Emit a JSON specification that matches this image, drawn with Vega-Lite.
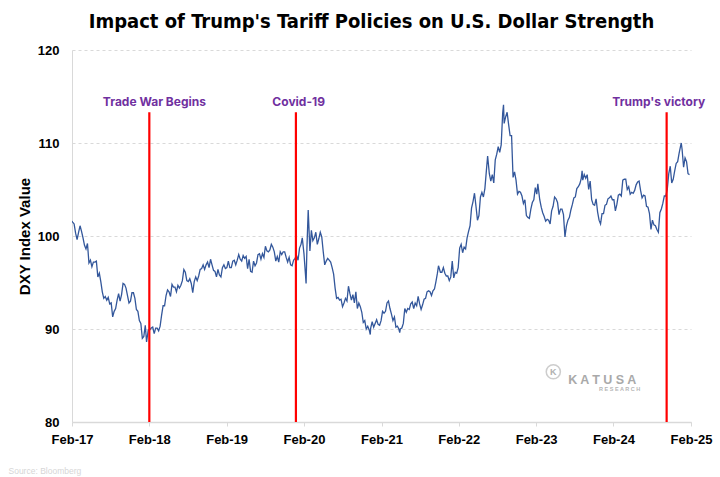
{
  "$schema": "https://vega.github.io/schema/vega-lite/v6.json",
  "width": 619,
  "height": 372,
  "autosize": {"type": "none"},
  "padding": {"left": 72, "top": 50, "right": 29, "bottom": 55},
  "background": "white",
  "config": {"view": {"stroke": null}},
  "title": {
    "text": "Impact of Trump's Tariff Policies on U.S. Dollar Strength",
    "font": "'DejaVu Sans Condensed', 'Liberation Sans', sans-serif",
    "fontSize": 20,
    "fontWeight": "bold",
    "color": "#000000",
    "anchor": "middle",
    "dx": -10,
    "offset": 12
  },
  "datasets": {
    "dxy": [
      {"d":"2017-02-28","v":101.6},{"d":"2017-03-03","v":101.5},{"d":"2017-03-10","v":101.3},{"d":"2017-03-17","v":100.3},{"d":"2017-03-24","v":99.6},{"d":"2017-03-31","v":100.4},
      {"d":"2017-04-07","v":101.1},{"d":"2017-04-14","v":100.5},{"d":"2017-04-21","v":99.8},{"d":"2017-04-28","v":99.0},{"d":"2017-05-05","v":98.6},{"d":"2017-05-12","v":99.2},
      {"d":"2017-05-19","v":97.1},{"d":"2017-05-26","v":97.4},{"d":"2017-06-02","v":96.7},{"d":"2017-06-09","v":97.2},{"d":"2017-06-16","v":97.2},{"d":"2017-06-23","v":97.3},
      {"d":"2017-06-30","v":95.6},{"d":"2017-07-07","v":96.0},{"d":"2017-07-14","v":95.1},{"d":"2017-07-21","v":94.0},{"d":"2017-07-28","v":93.3},{"d":"2017-08-04","v":93.5},
      {"d":"2017-08-11","v":93.1},{"d":"2017-08-18","v":93.4},{"d":"2017-08-25","v":92.7},{"d":"2017-09-01","v":92.8},{"d":"2017-09-08","v":91.3},{"d":"2017-09-15","v":91.9},
      {"d":"2017-09-22","v":92.2},{"d":"2017-09-29","v":93.1},{"d":"2017-10-06","v":93.8},{"d":"2017-10-13","v":93.0},{"d":"2017-10-20","v":93.7},{"d":"2017-10-27","v":94.9},
      {"d":"2017-11-03","v":94.8},{"d":"2017-11-10","v":94.4},{"d":"2017-11-17","v":93.6},{"d":"2017-11-24","v":92.8},{"d":"2017-12-01","v":93.0},{"d":"2017-12-08","v":93.9},
      {"d":"2017-12-15","v":93.9},{"d":"2017-12-22","v":93.3},{"d":"2017-12-29","v":92.1},
      {"d":"2018-01-05","v":91.9},{"d":"2018-01-12","v":90.9},{"d":"2018-01-19","v":90.6},{"d":"2018-01-26","v":89.0},{"d":"2018-02-02","v":89.2},{"d":"2018-02-09","v":90.4},
      {"d":"2018-02-15","v":88.6},{"d":"2018-02-23","v":89.9},{"d":"2018-03-02","v":89.9},{"d":"2018-03-09","v":90.1},{"d":"2018-03-16","v":90.2},{"d":"2018-03-23","v":89.5},
      {"d":"2018-03-30","v":90.1},{"d":"2018-04-06","v":90.1},{"d":"2018-04-13","v":89.8},{"d":"2018-04-20","v":90.3},{"d":"2018-04-27","v":91.5},{"d":"2018-05-04","v":92.5},
      {"d":"2018-05-11","v":92.5},{"d":"2018-05-18","v":93.6},{"d":"2018-05-25","v":94.2},{"d":"2018-06-01","v":94.0},{"d":"2018-06-08","v":93.5},{"d":"2018-06-15","v":94.8},
      {"d":"2018-06-22","v":94.5},{"d":"2018-06-29","v":94.5},{"d":"2018-07-06","v":94.0},{"d":"2018-07-13","v":94.7},{"d":"2018-07-20","v":94.4},{"d":"2018-07-27","v":94.7},
      {"d":"2018-08-03","v":95.2},{"d":"2018-08-10","v":96.4},{"d":"2018-08-17","v":96.1},{"d":"2018-08-24","v":95.2},{"d":"2018-08-31","v":95.1},{"d":"2018-09-07","v":95.4},
      {"d":"2018-09-14","v":94.9},{"d":"2018-09-21","v":93.9},{"d":"2018-09-28","v":95.1},{"d":"2018-10-05","v":95.6},{"d":"2018-10-12","v":95.2},{"d":"2018-10-19","v":95.7},
      {"d":"2018-10-26","v":96.4},{"d":"2018-11-02","v":96.5},{"d":"2018-11-09","v":96.9},{"d":"2018-11-16","v":96.4},{"d":"2018-11-23","v":96.9},{"d":"2018-11-30","v":97.2},
      {"d":"2018-12-07","v":96.6},{"d":"2018-12-14","v":97.5},{"d":"2018-12-21","v":96.9},{"d":"2018-12-28","v":96.3},
      {"d":"2019-01-04","v":96.2},{"d":"2019-01-11","v":95.6},{"d":"2019-01-18","v":96.4},{"d":"2019-01-25","v":95.8},{"d":"2019-02-01","v":95.6},{"d":"2019-02-08","v":96.6},
      {"d":"2019-02-15","v":96.9},{"d":"2019-02-22","v":96.5},{"d":"2019-03-01","v":96.6},{"d":"2019-03-08","v":97.3},{"d":"2019-03-15","v":96.6},{"d":"2019-03-22","v":96.6},
      {"d":"2019-03-29","v":97.3},{"d":"2019-04-05","v":97.4},{"d":"2019-04-12","v":96.9},{"d":"2019-04-19","v":97.4},{"d":"2019-04-26","v":98.0},{"d":"2019-05-03","v":97.5},
      {"d":"2019-05-10","v":97.3},{"d":"2019-05-17","v":97.9},{"d":"2019-05-24","v":97.6},{"d":"2019-05-31","v":97.8},{"d":"2019-06-07","v":96.5},{"d":"2019-06-14","v":97.5},
      {"d":"2019-06-21","v":96.2},{"d":"2019-06-28","v":96.1},{"d":"2019-07-05","v":97.3},{"d":"2019-07-12","v":96.8},{"d":"2019-07-19","v":97.1},{"d":"2019-07-26","v":98.0},
      {"d":"2019-08-02","v":98.1},{"d":"2019-08-09","v":97.5},{"d":"2019-08-16","v":98.1},{"d":"2019-08-23","v":97.7},{"d":"2019-08-30","v":98.9},{"d":"2019-09-06","v":98.4},
      {"d":"2019-09-13","v":98.3},{"d":"2019-09-20","v":98.5},{"d":"2019-09-27","v":99.1},{"d":"2019-10-04","v":98.8},{"d":"2019-10-11","v":98.3},{"d":"2019-10-18","v":97.3},
      {"d":"2019-10-25","v":97.8},{"d":"2019-11-01","v":97.2},{"d":"2019-11-08","v":98.3},{"d":"2019-11-15","v":98.0},{"d":"2019-11-22","v":98.3},{"d":"2019-11-29","v":98.3},
      {"d":"2019-12-06","v":97.7},{"d":"2019-12-13","v":97.2},{"d":"2019-12-20","v":97.7},{"d":"2019-12-27","v":96.9},
      {"d":"2020-01-03","v":96.8},{"d":"2020-01-10","v":97.4},{"d":"2020-01-17","v":97.6},{"d":"2020-01-24","v":97.9},{"d":"2020-01-31","v":97.4},{"d":"2020-02-07","v":98.7},
      {"d":"2020-02-14","v":99.1},{"d":"2020-02-20","v":99.8},{"d":"2020-02-28","v":98.1},{"d":"2020-03-06","v":95.9},{"d":"2020-03-09","v":94.9},{"d":"2020-03-13","v":98.7},
      {"d":"2020-03-19","v":102.8},{"d":"2020-03-27","v":98.4},{"d":"2020-04-03","v":100.6},{"d":"2020-04-10","v":99.5},{"d":"2020-04-17","v":99.8},{"d":"2020-04-24","v":100.4},
      {"d":"2020-05-01","v":99.1},{"d":"2020-05-08","v":99.7},{"d":"2020-05-15","v":100.4},{"d":"2020-05-22","v":99.9},{"d":"2020-05-29","v":98.3},{"d":"2020-06-05","v":96.9},
      {"d":"2020-06-12","v":97.3},{"d":"2020-06-19","v":97.6},{"d":"2020-06-26","v":97.4},{"d":"2020-07-03","v":97.2},{"d":"2020-07-10","v":96.6},{"d":"2020-07-17","v":95.9},
      {"d":"2020-07-24","v":94.4},{"d":"2020-07-31","v":93.3},{"d":"2020-08-07","v":93.4},{"d":"2020-08-14","v":93.1},{"d":"2020-08-21","v":93.2},{"d":"2020-08-28","v":92.4},
      {"d":"2020-09-04","v":92.8},{"d":"2020-09-11","v":93.3},{"d":"2020-09-18","v":93.0},{"d":"2020-09-25","v":94.6},{"d":"2020-10-02","v":93.8},{"d":"2020-10-09","v":93.1},
      {"d":"2020-10-16","v":93.7},{"d":"2020-10-23","v":92.8},{"d":"2020-10-30","v":94.0},{"d":"2020-11-06","v":92.2},{"d":"2020-11-13","v":92.8},{"d":"2020-11-20","v":92.4},
      {"d":"2020-11-27","v":91.8},{"d":"2020-12-04","v":90.7},{"d":"2020-12-11","v":90.9},{"d":"2020-12-18","v":90.0},{"d":"2020-12-25","v":90.3},
      {"d":"2021-01-01","v":89.9},{"d":"2021-01-06","v":89.4},{"d":"2021-01-08","v":90.1},{"d":"2021-01-15","v":90.8},{"d":"2021-01-22","v":90.2},{"d":"2021-01-29","v":90.6},
      {"d":"2021-02-05","v":91.0},{"d":"2021-02-12","v":90.5},{"d":"2021-02-19","v":90.4},{"d":"2021-02-26","v":90.9},{"d":"2021-03-05","v":91.9},{"d":"2021-03-12","v":91.7},
      {"d":"2021-03-19","v":91.9},{"d":"2021-03-26","v":92.8},{"d":"2021-04-02","v":93.0},{"d":"2021-04-09","v":92.2},{"d":"2021-04-16","v":91.6},{"d":"2021-04-23","v":90.9},
      {"d":"2021-04-30","v":91.3},{"d":"2021-05-07","v":90.2},{"d":"2021-05-14","v":90.3},{"d":"2021-05-21","v":90.0},{"d":"2021-05-25","v":89.6},{"d":"2021-05-28","v":90.0},
      {"d":"2021-06-04","v":90.1},{"d":"2021-06-11","v":90.6},{"d":"2021-06-18","v":92.2},{"d":"2021-06-25","v":91.8},{"d":"2021-07-02","v":92.2},{"d":"2021-07-09","v":92.1},
      {"d":"2021-07-16","v":92.7},{"d":"2021-07-23","v":92.9},{"d":"2021-07-30","v":92.2},{"d":"2021-08-06","v":92.8},{"d":"2021-08-13","v":92.5},{"d":"2021-08-20","v":93.5},
      {"d":"2021-08-27","v":92.7},{"d":"2021-09-03","v":92.1},{"d":"2021-09-10","v":92.6},{"d":"2021-09-17","v":93.2},{"d":"2021-09-24","v":93.3},{"d":"2021-10-01","v":94.0},
      {"d":"2021-10-08","v":94.1},{"d":"2021-10-15","v":94.0},{"d":"2021-10-22","v":93.6},{"d":"2021-10-29","v":94.1},{"d":"2021-11-05","v":94.3},{"d":"2021-11-12","v":95.1},
      {"d":"2021-11-19","v":96.0},{"d":"2021-11-24","v":96.8},{"d":"2021-12-03","v":96.1},{"d":"2021-12-10","v":96.1},{"d":"2021-12-17","v":96.6},{"d":"2021-12-24","v":96.0},
      {"d":"2021-12-31","v":95.7},
      {"d":"2022-01-07","v":95.7},{"d":"2022-01-14","v":95.2},{"d":"2022-01-21","v":95.6},{"d":"2022-01-28","v":97.3},{"d":"2022-02-04","v":95.5},{"d":"2022-02-11","v":96.1},
      {"d":"2022-02-18","v":96.0},{"d":"2022-02-25","v":96.6},{"d":"2022-03-04","v":98.7},{"d":"2022-03-11","v":99.1},{"d":"2022-03-18","v":98.2},{"d":"2022-03-25","v":98.8},
      {"d":"2022-04-01","v":98.6},{"d":"2022-04-08","v":99.8},{"d":"2022-04-15","v":100.5},{"d":"2022-04-22","v":101.1},{"d":"2022-04-29","v":103.0},{"d":"2022-05-06","v":103.7},
      {"d":"2022-05-13","v":104.6},{"d":"2022-05-20","v":103.2},{"d":"2022-05-27","v":101.7},{"d":"2022-06-03","v":102.2},{"d":"2022-06-10","v":104.2},{"d":"2022-06-17","v":104.7},
      {"d":"2022-06-24","v":104.2},{"d":"2022-07-01","v":105.1},{"d":"2022-07-08","v":107.0},{"d":"2022-07-14","v":108.6},{"d":"2022-07-22","v":106.7},{"d":"2022-07-29","v":105.9},
      {"d":"2022-08-05","v":106.6},{"d":"2022-08-12","v":105.7},{"d":"2022-08-19","v":108.2},{"d":"2022-08-26","v":108.8},{"d":"2022-09-02","v":109.6},{"d":"2022-09-09","v":109.0},
      {"d":"2022-09-16","v":109.8},{"d":"2022-09-23","v":113.2},{"d":"2022-09-27","v":114.1},{"d":"2022-09-30","v":112.1},{"d":"2022-10-07","v":112.8},{"d":"2022-10-14","v":113.3},
      {"d":"2022-10-21","v":112.0},{"d":"2022-10-28","v":110.8},{"d":"2022-11-04","v":110.8},{"d":"2022-11-11","v":106.3},{"d":"2022-11-18","v":106.9},{"d":"2022-11-25","v":106.0},
      {"d":"2022-12-02","v":104.5},{"d":"2022-12-09","v":104.8},{"d":"2022-12-16","v":104.7},{"d":"2022-12-23","v":104.3},{"d":"2022-12-30","v":103.5},
      {"d":"2023-01-06","v":103.9},{"d":"2023-01-13","v":102.2},{"d":"2023-01-20","v":102.0},{"d":"2023-01-27","v":101.9},{"d":"2023-02-03","v":102.9},{"d":"2023-02-10","v":103.6},
      {"d":"2023-02-17","v":103.9},{"d":"2023-02-24","v":105.2},{"d":"2023-03-03","v":104.5},{"d":"2023-03-08","v":105.6},{"d":"2023-03-17","v":103.9},{"d":"2023-03-24","v":103.1},
      {"d":"2023-03-31","v":102.5},{"d":"2023-04-07","v":102.1},{"d":"2023-04-14","v":101.6},{"d":"2023-04-21","v":101.8},{"d":"2023-04-28","v":101.7},{"d":"2023-05-05","v":101.3},
      {"d":"2023-05-12","v":102.7},{"d":"2023-05-19","v":103.2},{"d":"2023-05-26","v":104.2},{"d":"2023-06-02","v":104.0},{"d":"2023-06-09","v":103.6},{"d":"2023-06-16","v":102.3},
      {"d":"2023-06-23","v":102.9},{"d":"2023-06-30","v":102.9},{"d":"2023-07-07","v":102.3},{"d":"2023-07-14","v":99.9},{"d":"2023-07-21","v":101.1},{"d":"2023-07-28","v":101.7},
      {"d":"2023-08-04","v":102.0},{"d":"2023-08-11","v":102.8},{"d":"2023-08-18","v":103.4},{"d":"2023-08-25","v":104.1},{"d":"2023-09-01","v":104.2},{"d":"2023-09-08","v":105.1},
      {"d":"2023-09-15","v":105.3},{"d":"2023-09-22","v":105.6},{"d":"2023-09-29","v":106.2},{"d":"2023-10-03","v":107.0},{"d":"2023-10-06","v":106.0},{"d":"2023-10-13","v":106.6},
      {"d":"2023-10-20","v":106.2},{"d":"2023-10-27","v":106.6},{"d":"2023-11-03","v":105.0},{"d":"2023-11-10","v":105.9},{"d":"2023-11-17","v":103.9},{"d":"2023-11-24","v":103.4},
      {"d":"2023-12-01","v":103.3},{"d":"2023-12-08","v":104.0},{"d":"2023-12-15","v":102.6},{"d":"2023-12-22","v":101.7},{"d":"2023-12-29","v":101.3},
      {"d":"2024-01-05","v":102.4},{"d":"2024-01-12","v":102.4},{"d":"2024-01-19","v":103.3},{"d":"2024-01-26","v":103.4},{"d":"2024-02-02","v":104.0},{"d":"2024-02-09","v":104.1},
      {"d":"2024-02-16","v":104.3},{"d":"2024-02-23","v":103.9},{"d":"2024-03-01","v":103.9},{"d":"2024-03-08","v":102.7},{"d":"2024-03-15","v":103.4},{"d":"2024-03-22","v":104.4},
      {"d":"2024-03-29","v":104.5},{"d":"2024-04-05","v":104.3},{"d":"2024-04-12","v":106.0},{"d":"2024-04-19","v":106.1},{"d":"2024-04-26","v":106.1},{"d":"2024-05-03","v":105.0},
      {"d":"2024-05-10","v":105.3},{"d":"2024-05-17","v":104.5},{"d":"2024-05-24","v":104.7},{"d":"2024-05-31","v":104.6},{"d":"2024-06-07","v":104.9},{"d":"2024-06-14","v":105.5},
      {"d":"2024-06-21","v":105.8},{"d":"2024-06-28","v":105.9},{"d":"2024-07-05","v":104.9},{"d":"2024-07-12","v":104.1},{"d":"2024-07-19","v":104.4},{"d":"2024-07-26","v":104.3},
      {"d":"2024-08-02","v":103.2},{"d":"2024-08-09","v":103.1},{"d":"2024-08-16","v":102.4},{"d":"2024-08-23","v":100.7},{"d":"2024-08-30","v":101.7},{"d":"2024-09-06","v":101.2},
      {"d":"2024-09-13","v":101.1},{"d":"2024-09-20","v":100.7},{"d":"2024-09-27","v":100.4},{"d":"2024-10-04","v":102.5},{"d":"2024-10-11","v":102.9},{"d":"2024-10-18","v":103.5},
      {"d":"2024-10-25","v":104.3},{"d":"2024-11-01","v":104.3},{"d":"2024-11-08","v":105.0},{"d":"2024-11-15","v":106.7},{"d":"2024-11-22","v":107.5},{"d":"2024-11-29","v":105.7},
      {"d":"2024-12-06","v":106.1},{"d":"2024-12-13","v":107.0},{"d":"2024-12-20","v":107.8},{"d":"2024-12-27","v":108.0},
      {"d":"2025-01-03","v":108.9},{"d":"2025-01-10","v":109.7},{"d":"2025-01-13","v":110.0},{"d":"2025-01-17","v":109.3},{"d":"2025-01-24","v":107.4},{"d":"2025-01-31","v":108.4},
      {"d":"2025-02-07","v":108.0},{"d":"2025-02-14","v":106.7},{"d":"2025-02-21","v":106.6}
    ],
    "events": [
      {"d":"2018-02-28","v":80,"v2":113.3},
      {"d":"2020-01-21","v":80,"v2":113.3},
      {"d":"2024-11-05","v":80,"v2":113.3}
    ],
    "eventLabels": [
      {"d":"2018-03-24","v":114.4,"t":"Trade War Begins"},
      {"d":"2020-02-03","v":114.4,"t":"Covid-19"},
      {"d":"2024-09-29","v":114.4,"t":"Trump's victory"}
    ],
    "logoMark": [{"d":"2023-05-20","v":85.4,"t":"K"}],
    "logoName": [{"d":"2023-07-29","v":84.5,"t":"K A T U S A"}],
    "logoSub": [{"d":"2023-12-22","v":83.55,"t":"R E S E A R C H"}]
  },
  "encoding": {
    "x": {
      "field": "d",
      "type": "temporal",
      "scale": {
        "type": "utc",
        "domain": [{"year":2017,"month":2,"date":28,"utc":true},{"year":2025,"month":2,"date":28,"utc":true}]
      },
      "axis": {
        "values": [
          {"year":2017,"month":2,"date":28,"utc":true},
          {"year":2018,"month":2,"date":28,"utc":true},
          {"year":2019,"month":2,"date":28,"utc":true},
          {"year":2020,"month":2,"date":28,"utc":true},
          {"year":2021,"month":2,"date":28,"utc":true},
          {"year":2022,"month":2,"date":28,"utc":true},
          {"year":2023,"month":2,"date":28,"utc":true},
          {"year":2024,"month":2,"date":28,"utc":true},
          {"year":2025,"month":2,"date":28,"utc":true}
        ],
        "labelExpr": "utcFormat(datum.value, '%b-%y')",
        "labelFont": "Liberation Sans",
        "labelFontWeight": "bold",
        "labelFontSize": 13,
        "labelColor": "#000000",
        "labelFlush": false,
        "labelOverlap": false,
        "labelPadding": 7,
        "grid": false,
        "domainColor": "#d9d9d9",
        "domainWidth": 1.5,
        "tickColor": "#d9d9d9",
        "tickWidth": 1,
        "tickSize": 4,
        "title": "Source: Bloomberg",
        "titleFont": "Liberation Sans",
        "titleFontSize": 8.5,
        "titleFontWeight": "normal",
        "titleColor": "#d6d6d6",
        "titleAlign": "left",
        "titleAnchor": "start",
        "titleBaseline": "middle",
        "titleX": -64,
        "titleY": 48
      }
    },
    "y": {
      "field": "v",
      "type": "quantitative",
      "scale": {"domain": [80, 120], "nice": false, "zero": false},
      "axis": {
        "values": [80, 90, 100, 110, 120],
        "grid": true,
        "gridDash": [3, 3],
        "gridColor": "#d9d9d9",
        "gridWidth": 1,
        "ticks": false,
        "domainColor": "#d9d9d9",
        "domainWidth": 1,
        "labelFont": "Liberation Sans",
        "labelFontWeight": "bold",
        "labelFontSize": 13,
        "labelColor": "#000000",
        "labelPadding": 13,
        "title": "DXY Index Value",
        "titleFont": "Liberation Sans",
        "titleFontWeight": "bold",
        "titleFontSize": 15,
        "titleColor": "#000000",
        "titlePadding": 5
      }
    }
  },
  "layer": [
    {
      "data": {"name": "dxy"},
      "mark": {"type": "line", "color": "#33579b", "strokeWidth": 1.3, "clip": true}
    },
    {
      "data": {"name": "events"},
      "mark": {"type": "rule", "color": "#ff0000", "strokeWidth": 2.2},
      "encoding": {"y2": {"field": "v2"}}
    },
    {
      "data": {"name": "eventLabels"},
      "mark": {"type": "text", "font": "Inter", "fontWeight": "bold", "fontSize": 12, "color": "#7030a0", "align": "center", "baseline": "middle"},
      "encoding": {"text": {"field": "t"}}
    },
    {
      "data": {"name": "logoMark"},
      "mark": {"type": "point", "shape": "circle", "size": 200, "filled": false, "stroke": "#b8b8b8", "strokeWidth": 1.5},
      "encoding": {}
    },
    {
      "data": {"name": "logoMark"},
      "mark": {"type": "text", "font": "Liberation Sans", "fontSize": 9, "fontWeight": "bold", "color": "#b0b0b0", "align": "center", "baseline": "middle"},
      "encoding": {"text": {"field": "t"}}
    },
    {
      "data": {"name": "logoName"},
      "mark": {"type": "text", "font": "Liberation Sans", "fontSize": 12.5, "fontWeight": "bold", "color": "#a9a9a9", "align": "left", "baseline": "middle"},
      "encoding": {"text": {"field": "t"}}
    },
    {
      "data": {"name": "logoSub"},
      "mark": {"type": "text", "font": "Liberation Sans", "fontSize": 5.5, "fontWeight": "bold", "color": "#b5b5b5", "align": "left", "baseline": "middle"},
      "encoding": {"text": {"field": "t"}}
    }
  ]
}
